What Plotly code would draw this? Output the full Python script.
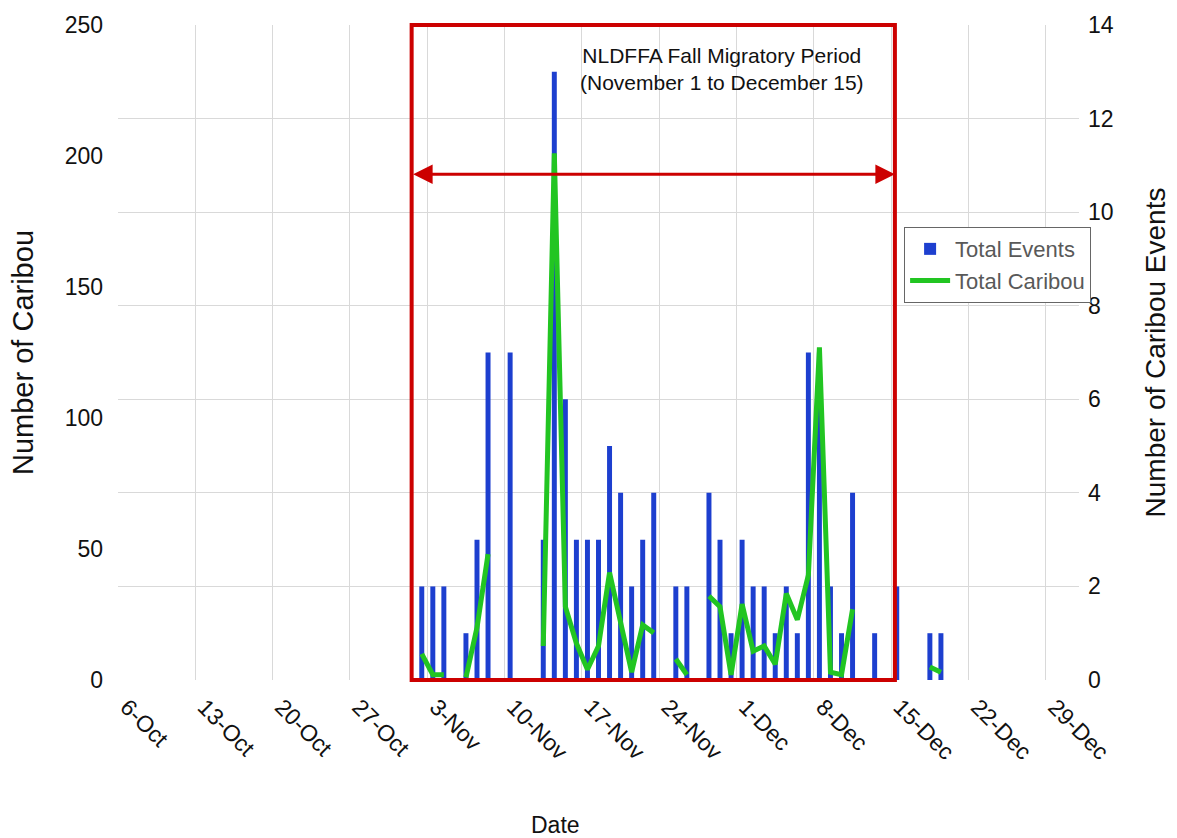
import pandas as pd
import plotly.graph_objects as go

# Daily records: number of caribou events and total caribou counted
event_dates = [
    "2014-11-02", "2014-11-03", "2014-11-04", "2014-11-06", "2014-11-07", "2014-11-08",
    "2014-11-10", "2014-11-13", "2014-11-14", "2014-11-15", "2014-11-16", "2014-11-17",
    "2014-11-18", "2014-11-19", "2014-11-20", "2014-11-21", "2014-11-22", "2014-11-23",
    "2014-11-25", "2014-11-26", "2014-11-28", "2014-11-29", "2014-11-30", "2014-12-01",
    "2014-12-02", "2014-12-03", "2014-12-04", "2014-12-05", "2014-12-06", "2014-12-07",
    "2014-12-08", "2014-12-09", "2014-12-10", "2014-12-11", "2014-12-13", "2014-12-15",
    "2014-12-18", "2014-12-19",
]
total_events = [
    2, 2, 2, 1, 3, 7,
    7, 3, 13, 6, 3, 3,
    3, 5, 4, 2, 3, 4,
    2, 2, 4, 3, 1, 3,
    2, 2, 1, 2, 1, 7,
    7, 2, 1, 4, 1, 2,
    1, 1,
]
total_caribou = [
    10, 2, 2, 1, 20, 48,
    None, 13, 201, 28, 14, 4,
    13, 41, 21, 3, 21, 18,
    8, 2, 32, 28, 2, 29,
    11, 13, 6, 33, 23, 40,
    127, 3, 2, 27, None, None,
    5, 3,
]

# Migratory period window and axis extent
period_start = "2014-11-01 14:00"
period_end = "2014-12-15 08:00"
axis_start = "2014-10-06"
axis_end = "2015-01-01"

obs = pd.DataFrame(
    {"events": total_events, "caribou": total_caribou},
    index=pd.to_datetime(event_dates),
).astype(float)
days = pd.date_range(obs.index.min(), obs.index.max(), freq="D")
daily = obs.reindex(days)
# each day's mark sits in the middle of its date slot
x_mid = daily.index + pd.Timedelta(hours=12)

FONT = "Liberation Sans, Arial, sans-serif"
BLUE = "#1d3fcf"
GREEN = "#22c522"
RED = "#cc0000"
GRID = "#d9d9d9"
INK = "#111111"
DAY_MS = 86400000

fig = go.Figure()
fig.add_trace(go.Bar(
    x=x_mid, y=daily["events"], name="Total Events",
    marker=dict(color=BLUE, line=dict(width=0)),
    width=0.45 * DAY_MS, yaxis="y",
))
fig.add_trace(go.Scatter(
    x=x_mid, y=daily["caribou"], name="Total Caribou", mode="lines",
    line=dict(color=GREEN, width=5), connectgaps=False, yaxis="y2",
))

fig.add_shape(
    type="rect", xref="x", yref="paper",
    x0=period_start, x1=period_end, y0=0, y1=1,
    line=dict(color=RED, width=4), fillcolor="rgba(0,0,0,0)", layer="above",
)
fig.add_annotation(
    xref="x", yref="paper", x=period_end, y=0.772,
    axref="x", ayref="pixel", ax=period_start, ay=0,
    text="", showarrow=True, arrowside="end+start",
    arrowhead=2, startarrowhead=2, arrowsize=1.3, startarrowsize=1.3,
    arrowwidth=3, arrowcolor=RED,
)
fig.add_annotation(
    xref="paper", yref="paper", x=0.628, y=0.933,
    text="NLDFFA Fall Migratory Period<br>(November 1 to December 15)",
    showarrow=False, font=dict(family=FONT, size=21, color=INK),
    align="center", xanchor="center", yanchor="middle",
)
fig.add_annotation(
    xref="paper", yref="paper", x=0.455, y=-0.222,
    text="Date", showarrow=False,
    font=dict(family=FONT, size=23, color=INK),
    xanchor="center", yanchor="middle",
)

fig.update_layout(
    width=1177, height=838,
    margin=dict(l=118, r=97, t=22, b=158),
    paper_bgcolor="white", plot_bgcolor="white",
    font=dict(family=FONT, color=INK),
    xaxis=dict(
        type="date", range=[axis_start, axis_end],
        tick0=axis_start, dtick=7 * DAY_MS, tickformat="%-d-%b",
        tickangle=45, tickfont=dict(size=23, color=INK),
        ticklabelshift=9, ticklabelstandoff=8,
        showgrid=True, gridcolor=GRID, gridwidth=1,
        zeroline=False, showline=False, ticks="",
    ),
    yaxis=dict(
        side="right", range=[0, 14], dtick=2,
        showgrid=True, gridcolor=GRID, gridwidth=1, zeroline=False,
        tickfont=dict(size=23, color=INK), ticklabelstandoff=8,
        title=dict(text="Number of Caribou Events", standoff=32,
                   font=dict(size=28, color=INK)),
    ),
    yaxis2=dict(
        overlaying="y", side="left", range=[0, 250], dtick=50,
        showgrid=False, zeroline=False,
        tickfont=dict(size=23, color=INK), ticklabelstandoff=14,
        title=dict(text="Number of Caribou", standoff=22,
                   font=dict(size=29, color=INK)),
    ),
    legend=dict(
        x=0.818, y=0.6915, xanchor="left", yanchor="top",
        bgcolor="white", bordercolor="#666666", borderwidth=1,
        font=dict(family=FONT, size=22, color="#595959"),
        itemwidth=40, traceorder="normal",
    ),
    showlegend=True,
)

fig.write_html("out.html")
